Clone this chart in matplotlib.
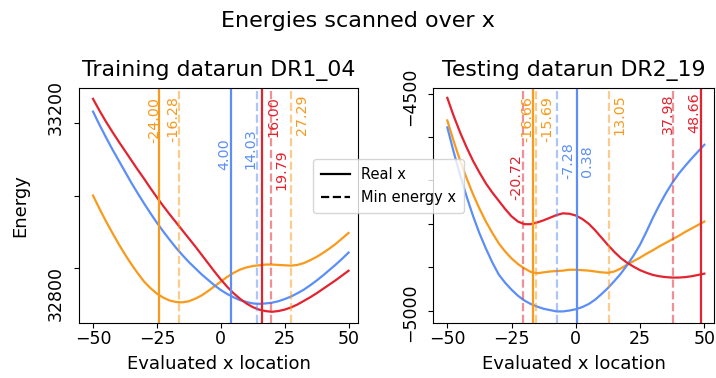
import matplotlib
matplotlib.use("Agg")
import matplotlib.pyplot as plt
from matplotlib.lines import Line2D
from matplotlib.transforms import ScaledTranslation

# scanned x positions (shared by all curves), step 2.5
x_scan = [-50, -47.5, -45, -42.5, -40, -37.5, -35, -32.5, -30, -27.5, -25,
          -22.5, -20, -17.5, -15, -12.5, -10, -7.5, -5, -2.5, 0,
          2.5, 5, 7.5, 10, 12.5, 15, 17.5, 20, 22.5, 25,
          27.5, 30, 32.5, 35, 37.5, 40, 42.5, 45, 47.5, 50]

# training datarun DR1_04
train_orange = [33000, 32964, 32930, 32898, 32867, 32838, 32811, 32786, 32763, 32745, 32730,
                32719, 32711, 32707, 32706, 32709, 32716, 32725, 32737, 32750, 32763,
                32776, 32787, 32796, 32802, 32806, 32808, 32810, 32810, 32809, 32808,
                32807, 32809, 32814, 32822, 32831, 32842, 32854, 32867, 32882, 32897]
train_blue = [33231, 33195, 33161, 33128, 33097, 33066, 33035, 33006, 32978, 32951, 32925,
              32901, 32878, 32856, 32836, 32817, 32800, 32783, 32768, 32753, 32740,
              32729, 32720, 32712, 32707, 32703, 32702, 32703, 32705, 32709, 32715,
              32722, 32731, 32741, 32753, 32766, 32780, 32795, 32810, 32826, 32843]
train_red = [33266, 33234, 33204, 33176, 33149, 33123, 33097, 33071, 33046, 33020, 32995,
             32971, 32948, 32926, 32904, 32882, 32860, 32837, 32814, 32791, 32769,
             32749, 32731, 32716, 32703, 32693, 32686, 32682, 32680, 32682, 32686,
             32692, 32700, 32710, 32720, 32731, 32743, 32755, 32767, 32780, 32793]

# testing datarun DR2_19
test_orange = [-4562, -4610, -4655, -4695, -4732, -4765, -4795, -4821, -4845, -4864, -4880,
               -4893, -4903, -4911, -4914, -4912, -4910, -4909, -4908, -4906, -4906,
               -4907, -4908, -4910, -4912, -4913, -4910, -4903, -4894, -4886, -4878,
               -4869, -4861, -4852, -4844, -4836, -4828, -4819, -4811, -4803, -4795]
test_blue = [-4578, -4635, -4688, -4737, -4782, -4822, -4857, -4889, -4917, -4936, -4952,
             -4966, -4977, -4985, -4991, -4996, -4999, -5002, -5002, -5000, -4997,
             -4992, -4985, -4975, -4962, -4948, -4932, -4915, -4895, -4873, -4848,
             -4818, -4786, -4757, -4730, -4706, -4685, -4667, -4650, -4634, -4618]
test_red = [-4510, -4552, -4590, -4624, -4655, -4682, -4707, -4728, -4747, -4766, -4783,
            -4795, -4801, -4801, -4797, -4792, -4786, -4780, -4776, -4777, -4781,
            -4789, -4800, -4815, -4832, -4849, -4865, -4879, -4890, -4899, -4907,
            -4913, -4918, -4921, -4923, -4924, -4924, -4923, -4921, -4918, -4915]

# real x and min energy x for each curve
train_real = {"orange": -24.00, "blue": 4.00, "red": 16.00}
train_min = {"orange": [-16.28, 27.29], "blue": [14.03], "red": [19.79]}
test_real = {"orange": -16.66, "blue": 0.38, "red": 48.66}
test_min = {"orange": [-15.69, 13.05], "blue": [-7.28], "red": [-20.72, 37.98]}

colors = {"orange": "#f89a1c", "blue": "#5b8ff7", "red": "#e3232f"}

# label placement (layout only): value -> (ha, dx px, dy px)
train_label_pos = {-24.00: ("right", 1.5, -9), -16.28: ("right", 1.2, -8),
                   4.00: ("right", 0.3, -50), 14.03: ("right", 0.4, -40),
                   16.00: ("left", 5, -8), 19.79: ("left", 3, -61),
                   27.29: ("left", 4, -6.5)}
test_label_pos = {-20.72: ("right", 0.3, -66), -16.66: ("right", 1.3, -7.5),
                  -15.69: ("left", 4.5, -7.5), -7.28: ("left", 4, -54),
                  0.38: ("left", 3.3, -57), 13.05: ("left", 2.8, -6),
                  37.98: ("right", 1.2, -5), 48.66: ("right", 0.5, -4)}

plt.rcParams["font.family"] = "DejaVu Sans"

fig = plt.figure(figsize=(7.16, 3.78), dpi=100)
ax1 = fig.add_axes([0.1103, 0.1463, 0.3897, 0.6200])
ax2 = fig.add_axes([0.6050, 0.1463, 0.3920, 0.6200])

PX = 0.72  # points per pixel


def draw_panel(ax, curves, real, mins, label_pos, title):
    for name in ["orange", "blue", "red"]:
        ax.plot(x_scan, curves[name], color=colors[name], lw=1.6)
    for name in ["orange", "blue", "red"]:
        ax.axvline(real[name], color=colors[name], lw=1.6)
        for m in mins[name]:
            ax.axvline(m, color=colors[name], lw=1.6, ls="--", alpha=0.5)
    for name in ["orange", "blue", "red"]:
        for v in [real[name]] + mins[name]:
            ha, dx, dy = label_pos[v]
            ax.annotate(f"{v:.2f}", xy=(v, 1), xycoords=("data", "axes fraction"),
                        xytext=(dx * PX, dy * PX), textcoords="offset points",
                        rotation=90, ha=ha, va="top", color=colors[name],
                        fontsize=10.3)
    ax.set_title(title, fontsize=15.8, pad=9)
    ax.set_xlabel("Evaluated x location", fontsize=13, labelpad=5)
    ax.set_xlim(-55.5, 53.7)
    ax.set_xticks([-50, -25, 0, 25, 50])
    ax.tick_params(axis="both", labelsize=12.5)
    ax.tick_params(axis="x", pad=2)
    ax.tick_params(axis="y", labelrotation=90, pad=6.8)


def shift_ylabels(ax, shifts_px):
    # nudge the rotated y tick labels vertically (pixels, + is up)
    for lab, s in zip(ax.get_yticklabels(), shifts_px):
        lab.set_va("center")
        lab.set_transform(lab.get_transform()
                          + ScaledTranslation(0, s / 100, fig.dpi_scale_trans))


draw_panel(ax1, {"orange": train_orange, "blue": train_blue, "red": train_red},
           train_real, train_min, train_label_pos, "Training datarun DR1_04")
ax1.set_ylim(32650, 33295)
ax1.set_yticks([32800, 33000, 33200])
ax1.set_yticklabels(["32800", "", "33200"])
ax1.set_ylabel("Energy", fontsize=13, labelpad=12.5)
shift_ylabels(ax1, [-25, 0, 15])

draw_panel(ax2, {"orange": test_orange, "blue": test_blue, "red": test_red},
           test_real, test_min, test_label_pos, "Testing datarun DR2_19")
ax2.set_ylim(-5028, -4488)
ax2.set_yticks([-5000, -4900, -4800, -4700, -4600, -4500])
ax2.set_yticklabels(["\u22125000", "", "", "", "", "\u22124500"])
shift_ylabels(ax2, [-2.5, 0, 0, 0, 0, -3])

handles = [Line2D([], [], color="black", lw=1.6),
           Line2D([], [], color="black", lw=1.6, ls="--")]
fig.legend(handles, ["Real x", "Min energy x"], loc="center",
           bbox_to_anchor=(388.5 / 716, 1 - 186 / 378), fontsize=10.5,
           borderpad=0.5, labelspacing=0.6)

fig.suptitle("Energies scanned over x", fontsize=16, y=0.972)

fig.savefig("out.png", dpi=100)
